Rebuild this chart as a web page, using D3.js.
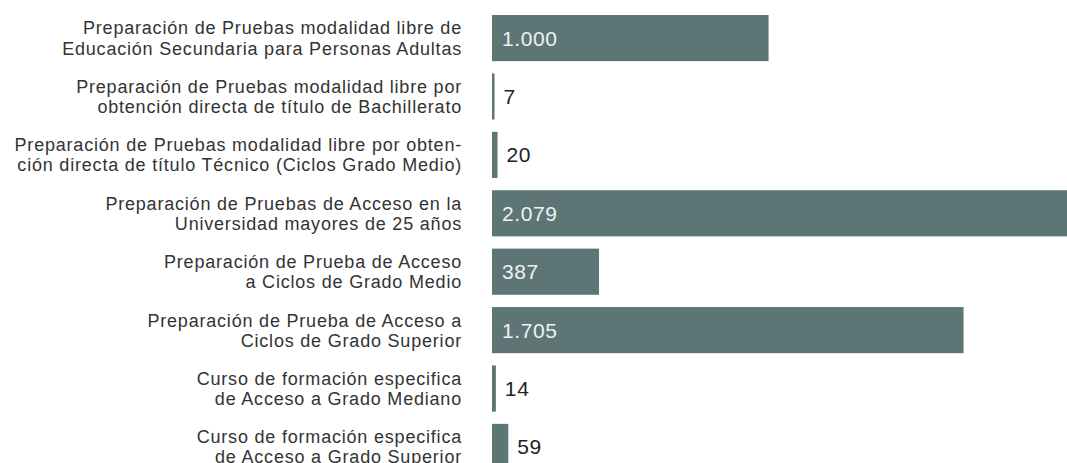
<!DOCTYPE html>
<html>
<head>
<meta charset="utf-8">
<script src="https://cdn.jsdelivr.net/npm/d3@7"></script>
<style>
  body { margin: 0; background: #fff; }
  svg { display: block; font-family: "Liberation Sans", Arial, sans-serif; }
</style>
</head>
<body>
<div id="vis-holder"></div>
<script>
// Chart data
const categories = [
  "Preparación de Pruebas modalidad libre de|Educación Secundaria para Personas Adultas",
  "Preparación de Pruebas modalidad libre por|obtención directa de título de Bachillerato",
  "Preparación de Pruebas modalidad libre por obten-|ción directa de título Técnico (Ciclos Grado Medio)",
  "Preparación de Pruebas de Acceso en la|Universidad mayores de 25 años",
  "Preparación de Prueba de Acceso|a Ciclos de Grado Medio",
  "Preparación de Prueba de Acceso a|Ciclos de Grado Superior",
  "Curso de formación especifica|de Acceso a Grado Mediano",
  "Curso de formación especifica|de Acceso a Grado Superior"
];
const values = [1000, 7, 20, 2079, 387, 1705, 14, 59];
const valueLabels = ["1.000", "7", "20", "2.079", "387", "1.705", "14", "59"];

// Set margins and dimensions
const width = 1067;
const height = 463;
const margin = { top: 15, right: 0, bottom: -7, left: 492 };

const svg = d3.select("#vis-holder")
              .append("svg")
              .attr("width", width)
              .attr("height", height);

const data = categories.map((c, i) => ({ label: c, value: values[i], text: valueLabels[i] }));

// Scales
const x = d3.scaleLinear()
            .domain([0, d3.max(values)])
            .range([margin.left, width - margin.right]);

const y = d3.scaleBand()
            .domain(d3.range(data.length))
            .range([margin.top, height - margin.bottom])
            .paddingInner(0.21)
            .paddingOuter(0);

const barColor = "#5d7675";
const barW = (d) => Math.max(2.5, x(d.value) - x(0));

// Bars
svg.selectAll(".bar")
   .data(data)
   .enter()
   .append("rect")
     .attr("class", "bar")
     .attr("x", x(0))
     .attr("y", (d, i) => y(i))
     .attr("width", barW)
     .attr("height", y.bandwidth())
     .style("fill", barColor);

// Value labels: inside the bar when there is room, otherwise just after it
svg.selectAll(".value")
   .data(data)
   .enter()
   .append("text")
     .attr("class", "value")
     .attr("x", d => barW(d) > 60 ? x(0) + 10 : x(0) + barW(d) + 9)
     .attr("y", (d, i) => y(i) + y.bandwidth() / 2)
     .attr("dy", "0.36em")
     .attr("font-size", "21px")
     .attr("letter-spacing", "0.6px")
     .attr("fill", d => barW(d) > 60 ? "#eef2f2" : "#222")
     .text(d => d.text);

// Category labels (two lines, right aligned)
const labels = svg.selectAll(".label")
   .data(data)
   .enter()
   .append("text")
     .attr("class", "label")
     .attr("x", 462)
     .attr("y", (d, i) => y(i) + y.bandwidth() / 2)
     .attr("text-anchor", "end")
     .attr("font-size", "18px")
     .attr("letter-spacing", "0.8px")
     .attr("fill", "#333");

labels.selectAll("tspan")
   .data(d => d.label.split("|"))
   .enter()
   .append("tspan")
     .attr("x", 462)
     .attr("dy", (t, j) => j === 0 ? "-0.2em" : "1.12em")
     .text(t => t);
</script>
</body>
</html>
